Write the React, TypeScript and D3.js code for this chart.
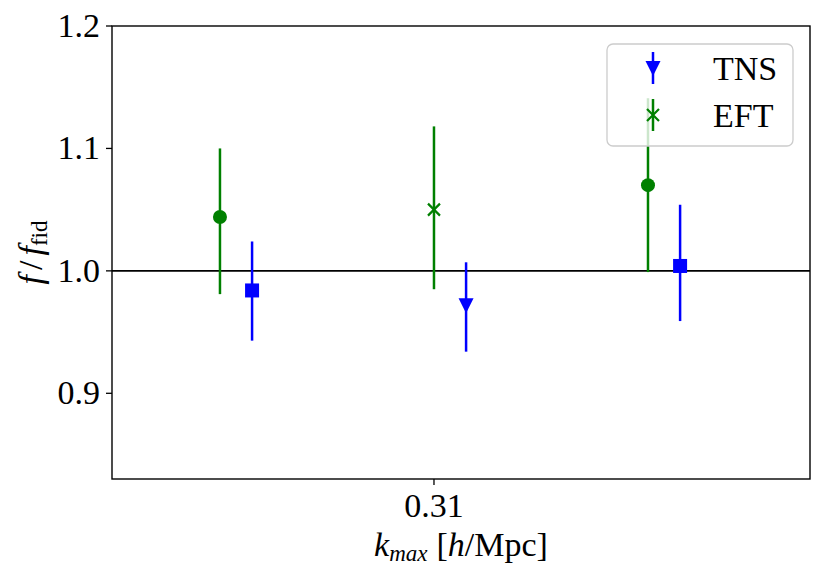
import React from 'react'
import * as d3 from 'd3'

// k_max grid (EFT positions); TNS points are nudged right so the bars don't overlap
const kGrid = [0.29, 0.31, 0.33]
const tnsShift = 0.003

const eftValues = [1.044, 1.05, 1.07]
const eftLower = [0.981, 0.985, 0.999]
const eftUpper = [1.1, 1.118, 1.141]
const eftMarkers = ['circle', 'x', 'circle']

const tnsValues = [0.984, 0.972, 1.004]
const tnsLower = [0.943, 0.934, 0.959]
const tnsUpper = [1.024, 1.007, 1.054]
const tnsMarkers = ['square', 'triangle', 'square']

const yTicks = [0.9, 1.0, 1.1, 1.2]
const xTicks = [0.31]

const legendItems = [
  { label: 'TNS', color: '#0000ff', marker: 'triangle' },
  { label: 'EFT', color: '#008000', marker: 'x' },
]

const width = 833
const height = 581
const margin = { top: 26, right: 23, bottom: 102, left: 112 }
const font = '"Liberation Serif", "DejaVu Serif", serif'
const fontSize = 34
const subSize = 23

const Marker: React.FC<{ kind: string; x: number; y: number; color: string }> = ({ kind, x, y, color }) => {
  if (kind === 'circle') return <circle cx={x} cy={y} r={7} fill={color} />
  if (kind === 'square') return <rect x={x - 7} y={y - 7} width={14} height={14} fill={color} />
  if (kind === 'triangle')
    return <path d={`M${x - 7.5},${y - 7}L${x + 7.5},${y - 7}L${x},${y + 8}Z`} fill={color} />
  // 'x'
  const s = 6
  return (
    <path
      d={`M${x - s},${y - s}L${x + s},${y + s}M${x - s},${y + s}L${x + s},${y - s}`}
      stroke={color}
      strokeWidth={2.2}
      fill="none"
    />
  )
}

const App: React.FC = () => {
  const x = d3.scaleLinear().domain([0.27991, 0.34514]).range([margin.left, width - margin.right])
  const y = d3.scaleLinear().domain([0.83, 1.2]).range([height - margin.bottom, margin.top])

  const series = [
    { color: '#008000', shift: 0, values: eftValues, lower: eftLower, upper: eftUpper, markers: eftMarkers },
    { color: '#0000ff', shift: tnsShift, values: tnsValues, lower: tnsLower, upper: tnsUpper, markers: tnsMarkers },
  ]

  const [x0, x1] = x.range()
  const [yb, yt] = y.range()

  return (
    <svg
      width={width}
      height={height}
      style={{ position: 'absolute', left: 0, top: 0, background: '#fff' }}
      fontFamily={font}
    >
      <rect width={width} height={height} fill="#fff" />

      {/* reference line at f = f_fid */}
      <line x1={x0} x2={x1} y1={y(1)} y2={y(1)} stroke="#000" strokeWidth={1.6} />

      {/* error bars and markers */}
      {series.map((s, si) =>
        kGrid.map((k, i) => {
          const cx = x(k + s.shift)
          return (
            <g key={`${si}-${i}`}>
              <line x1={cx} x2={cx} y1={y(s.upper[i])} y2={y(s.lower[i])} stroke={s.color} strokeWidth={2.5} />
              <Marker kind={s.markers[i]} x={cx} y={y(s.values[i])} color={s.color} />
            </g>
          )
        }),
      )}

      {/* legend */}
      <g>
        <rect x={607} y={44} width={186} height={102} rx={6} fill="#fff" fillOpacity={0.8} stroke="#cccccc" strokeWidth={1.3} />
        {legendItems.map((d, i) => {
          const cy = 68 + i * 47
          return (
            <g key={d.label}>
              <line x1={653} x2={653} y1={cy - 16} y2={cy + 16} stroke={d.color} strokeWidth={2.5} />
              <Marker kind={d.marker} x={653} y={cy} color={d.color} />
              <text x={713} y={cy + 12} fontSize={fontSize} fill="#000">
                {d.label}
              </text>
            </g>
          )
        })}
      </g>

      {/* axes frame */}
      <rect x={x0} y={yt} width={x1 - x0} height={yb - yt} fill="none" stroke="#000" strokeWidth={1.4} />

      {/* y ticks */}
      {yTicks.map((t) => (
        <g key={t}>
          <line x1={x0 - 6} x2={x0} y1={y(t)} y2={y(t)} stroke="#000" strokeWidth={1.3} />
          <text x={x0 - 12} y={y(t) + 11} textAnchor="end" fontSize={fontSize} fill="#000">
            {d3.format('.1f')(t)}
          </text>
        </g>
      ))}

      {/* x ticks */}
      {xTicks.map((t) => (
        <g key={t}>
          <line x1={x(t)} x2={x(t)} y1={yb} y2={yb + 6} stroke="#000" strokeWidth={1.3} />
          <text x={x(t)} y={yb + 38} textAnchor="middle" fontSize={fontSize} fill="#000">
            {String(t)}
          </text>
        </g>
      ))}

      {/* axis labels */}
      <text x={(x0 + x1) / 2} y={556} textAnchor="middle" fontSize={fontSize} fill="#000">
        <tspan fontStyle="italic">k</tspan>
        <tspan fontStyle="italic" fontSize={subSize} dy={5}>max</tspan>
        <tspan dy={-5} dx={9}>[</tspan>
        <tspan fontStyle="italic">h</tspan>
        <tspan>/Mpc]</tspan>
      </text>
      <text
        transform={`translate(${42},${(yt + yb) / 2}) rotate(-90)`}
        textAnchor="middle"
        fontSize={fontSize}
        fill="#000"
      >
        <tspan fontStyle="italic">f</tspan>
        <tspan dx={5}>/</tspan>
        <tspan dx={5} fontStyle="italic">f</tspan>
        <tspan fontSize={subSize} dy={5}>fid</tspan>
      </text>
    </svg>
  )
}

export default App
